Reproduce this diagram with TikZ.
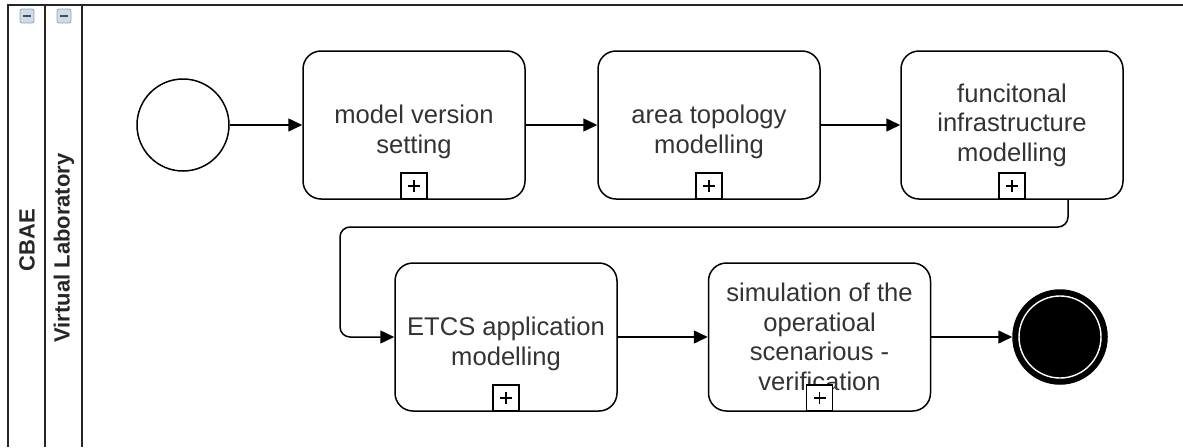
\documentclass[tikz,border=0pt]{standalone}
\usepackage{fontspec}
\setmainfont{Liberation Sans}
\usetikzlibrary{arrows.meta}

\definecolor{btnfill}{HTML}{CFDBE8}
\definecolor{btnborder}{HTML}{93A5BA}

\tikzset{
  lane/.style={draw=black!85, line width=1.5pt},
  lanelabel/.style={rotate=90, font=\fontsize{22}{26}\selectfont\bfseries, text=black!85},
  lanebutton/.style={draw=btnborder, fill=btnfill, rounded corners=2pt, minimum size=14pt, inner sep=0pt, line width=0.8pt,
    path picture={\draw[line width=2pt, black!70] ([xshift=-4pt]path picture bounding box.center) -- ([xshift=4pt]path picture bounding box.center);}},
  startevent/.style={circle, draw=black, line width=1.5pt, minimum size=92pt, inner sep=0pt},
  endevent/.style={circle, draw=black, fill=black, line width=1.5pt, minimum size=94pt, inner sep=0pt,
    path picture={\draw[white, line width=1.4pt] (path picture bounding box.center) circle (41pt);}},
  subprocess/.style={draw=black, rounded corners=18pt, line width=1.5pt, minimum width=222pt, minimum height=148pt,
    align=center, font=\fontsize{25.6}{29.5}\selectfont, text=black!80, inner sep=0pt},
  twolines/.style={text height=62pt},
  expandmark/.style={draw=black, fill=white, line width=1.3pt, minimum size=26pt, inner sep=0pt, anchor=south,
    path picture={\draw[line width=1.3pt]
      ([xshift=-6pt]path picture bounding box.center) -- ([xshift=6pt]path picture bounding box.center)
      ([yshift=-6pt]path picture bounding box.center) -- ([yshift=6pt]path picture bounding box.center);}},
  flow/.style={line width=1.5pt, -{Triangle[length=14pt,width=13pt]}, rounded corners=10pt},
}

\begin{document}
\begin{tikzpicture}[x=1pt, y=-1pt]
  \useasboundingbox (0,0) rectangle (1183,447);

  % pool and lane
  \draw[lane] (8,447) -- (8,5) -- (1183,5);
  \draw[lane] (45,5) -- (45,447);
  \draw[lane] (82,5) -- (82,447);
  \node[lanebutton] (poolbtn) at (27,16) {};
  \node[lanebutton] (lanebtn) at (64,16) {};
  \node[lanelabel] (poollabel) at (27,240) {CBAE};
  \node[lanelabel] (vllabel) at (64,248) {Virtual Laboratory};

  % events and sub-processes
  \node[startevent] (start) at (183,125) {};
  \node[subprocess, twolines] (versionset) at (414,125) {model version\\setting};
  \node[subprocess, twolines] (areatopo) at (709,125) {area topology\\modelling};
  \node[subprocess] (funcinfra) at (1012,125) {funcitonal\\infrastructure\\modelling};
  \node[subprocess, twolines] (etcsapp) at (506,337) {ETCS application\\modelling};
  \node[subprocess] (simverif) at (819.5,337) {simulation of the\\operatioal\\scenarious -\\verification};
  \node[endevent] (finish) at (1060,337) {};

  \foreach \task in {versionset, areatopo, funcinfra, etcsapp, simverif}
    \node[expandmark] (\task plus) at (\task.south) {};

  % sequence flows
  \coordinate (detour) at (340,227);
  \draw[flow] (start) -- (versionset);
  \draw[flow] (versionset) -- (areatopo);
  \draw[flow] (areatopo) -- (funcinfra);
  \draw[flow] ([xshift=56pt]funcinfra.south) |- (detour) |- (etcsapp.west);
  \draw[flow] (etcsapp) -- (simverif);
  \draw[flow] (simverif) -- (finish);
\end{tikzpicture}
\end{document}
